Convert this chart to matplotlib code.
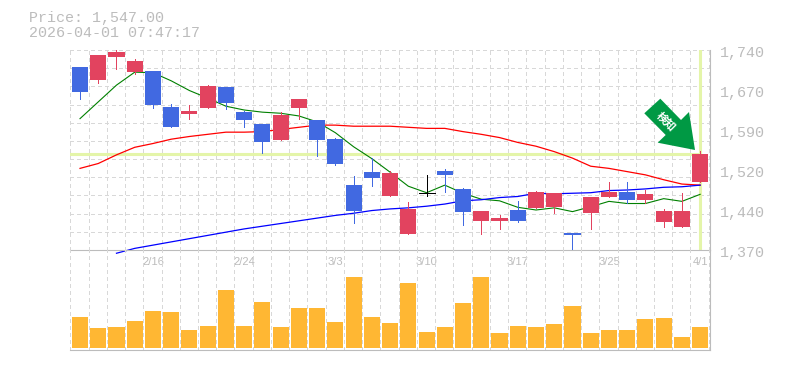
import matplotlib
matplotlib.use('Agg')
import matplotlib.pyplot as plt
from matplotlib.patches import Polygon
import numpy as np

W, H = 785, 370

opens = [1709, 1685, 1727, 1699, 1701, 1635, 1622, 1633, 1672, 1625, 1603, 1574, 1633, 1610, 1575,
         1490, 1514, 1470, 1400, 1475, 1516, 1483, 1424, 1424, 1444, 1448, 1450, 1401, 1438, 1468,
         1477, 1462, 1422, 1413, 1496]
closes = [1662, 1731, 1736, 1720, 1638, 1598, 1627, 1673, 1642, 1610, 1570, 1620, 1649, 1574, 1529,
          1442, 1503, 1512, 1446, 1475, 1509, 1440, 1442, 1429, 1424, 1477, 1475, 1398, 1468, 1477,
          1462, 1474, 1442, 1442, 1547]
highs = [1709, 1731, 1740, 1723, 1701, 1640, 1638, 1675, 1672, 1627, 1603, 1625, 1649, 1610, 1577,
         1507, 1540, 1516, 1459, 1509, 1520, 1485, 1442, 1435, 1461, 1479, 1475, 1401, 1468, 1496,
         1496, 1481, 1446, 1475, 1553]
lows = [1649, 1679, 1705, 1696, 1633, 1598, 1612, 1633, 1631, 1598, 1549, 1574, 1612, 1544, 1527,
        1420, 1488, 1470, 1400, 1470, 1477, 1416, 1400, 1409, 1422, 1448, 1438, 1372, 1409, 1468,
        1457, 1457, 1413, 1413, 1496]

ma_short = [1613, 1644, 1675, 1699, 1698, 1683, 1665, 1651, 1636, 1629, 1625, 1623, 1618, 1607, 1587,
            1561, 1539, 1514, 1488, 1476, 1490, 1475, 1464, 1461, 1449, 1444, 1448, 1441, 1450, 1460,
            1456, 1456, 1465, 1460, 1473]
ma_mid = [1521, 1530, 1546, 1560, 1567, 1575, 1580, 1584, 1588, 1588, 1589, 1593, 1597, 1601, 1601,
          1599, 1599, 1599, 1597, 1595, 1595, 1589, 1584, 1578, 1569, 1562, 1552, 1540, 1525, 1521,
          1515, 1509, 1500, 1492, 1490]
ma_long = [None, None, 1364, 1373, 1379, 1385, 1391, 1397, 1403, 1409, 1414, 1419, 1424, 1429, 1434,
           1438, 1443, 1446, 1448, 1451, 1455, 1461, 1463, 1467, 1469, 1475, 1474, 1475, 1476, 1480,
           1481, 1483, 1486, 1487, 1490]

volumes = [31, 20, 21, 27, 37, 36, 18, 22, 58, 22, 46, 21, 40, 40, 26, 71, 31, 25,
           65, 16, 21, 45, 71, 15, 22, 21, 24, 42, 15, 18, 18, 29, 30, 11, 21]

price_ticks = [1740, 1670, 1590, 1520, 1440, 1370]
date_labels = ['2/16', '2/24', '3/3', '3/10', '3/17', '3/25', '4/1']
date_idx = [4, 9, 14, 19, 24, 29, 34]
last_price = 1547.00
stamp = '2026-04-01 07:47:17'

RED = '#e2435f'
BLUE = '#4169e1'
GREY = '#bcbcbc'
GRID = '#d8d8d8'
HILITE = '#e4f5a9'
MONO = 'Liberation Mono'
PX = 0.72

fig = plt.figure(figsize=(W / 100, H / 100), dpi=100)


def make_ax(y0, y1):
    return fig.add_axes([70 / W, 1 - y1 / H, 640 / W, (y1 - y0) / H])


step = 18.24
xlim = (-10 / step, 630 / step)
ax = make_ax(50, 250)
vax = make_ax(250, 350)
n = len(opens)
xs = np.arange(n)
grid_x = np.arange(n + 1) - 0.53
grid_y = np.linspace(1370, 1740, 12)

for a in (ax, vax):
    a.set_xlim(xlim)
    a.set_xticks([])
    a.set_yticks([])
    a.patch.set_alpha(0)
    for x in grid_x:
        a.axvline(x, color=GRID, lw=PX, dashes=(4, 4), zorder=0, antialiased=False)
    for s in a.spines.values():
        s.set_visible(False)
    a.spines['right'].set_visible(True)
    a.spines['right'].set_color(GREY)
    a.spines['bottom'].set_visible(True)
    a.spines['bottom'].set_color(GREY)

ax.set_ylim(1370, 1740)
for y in grid_y[1:]:
    ax.axhline(y, color=GRID, lw=PX, dashes=(4, 4), zorder=0, antialiased=False)

# last price cross
ax.axhline(last_price, xmax=(34 - xlim[0]) / (xlim[1] - xlim[0]), color=HILITE, lw=2.2, zorder=1)
ax.plot([34, 34], [1374, 1738], color=HILITE, lw=2.2, zorder=1)

# moving averages sit under the candles
ax.plot(xs, ma_short, color='#008000', lw=0.8, zorder=2)
ax.plot(xs, ma_mid, color='#ff0000', lw=0.9, zorder=2)
ax.plot(xs, [np.nan if v is None else v for v in ma_long], color='#0000ff', lw=0.9, zorder=2, clip_on=False)

# candles
for i in range(n):
    c = RED if closes[i] > opens[i] else BLUE
    if closes[i] == opens[i]:
        c = 'black'
    ax.plot([i, i], [lows[i], highs[i]], color=c, lw=PX, zorder=3, antialiased=False)
    if closes[i] == opens[i]:
        ax.plot([i - 0.44, i + 0.44], [opens[i], opens[i]], color=c, lw=PX, zorder=3, antialiased=False)
    else:
        ax.bar(i, abs(closes[i] - opens[i]), bottom=min(opens[i], closes[i]), width=0.88,
               color=c, linewidth=0, zorder=3)

vax.set_ylim(-2, 98)
vax.bar(xs, volumes, width=0.88, color='#ffb733', linewidth=0, zorder=2)

# signal arrow, pixel positions on the figure
arrow_px = [(660.3, 98.7), (681, 120), (689, 112), (695, 150), (657.7, 142.7), (665.7, 135), (644.3, 113.3)]
arrow = Polygon([(x / W, 1 - y / H) for x, y in arrow_px], closed=True, transform=fig.transFigure,
                facecolor='#009944', edgecolor='none', zorder=5)
fig.add_artist(arrow)
fig.text(666 / W, 1 - 121 / H, '検知', family=['Noto Sans CJK JP', 'DejaVu Sans'], fontsize=8,
         fontweight='bold', color='white', rotation=-45, ha='center', va='center', zorder=6)

fig.text(29 / W, 1 - 18 / H, f'Price: {last_price:,.2f}', family=MONO, fontsize=10.8, color=GREY, va='center')
fig.text(29 / W, 1 - 33 / H, stamp, family=MONO, fontsize=10.8, color=GREY, va='center')

for k, p in enumerate(price_ticks):
    fig.text(720 / W, 1 - (53 + 40 * k) / H, f'{p:,}', family=MONO, fontsize=10.8, color=GREY, va='center')

for i, lab in zip(date_idx, date_labels):
    ax.annotate(lab, (i, 1370), xytext=(0, -12), textcoords='offset pixels', ha='center', va='center',
                family='Liberation Sans', fontsize=8, color=GREY, annotation_clip=False)

fig.savefig('out.png', dpi=100)
